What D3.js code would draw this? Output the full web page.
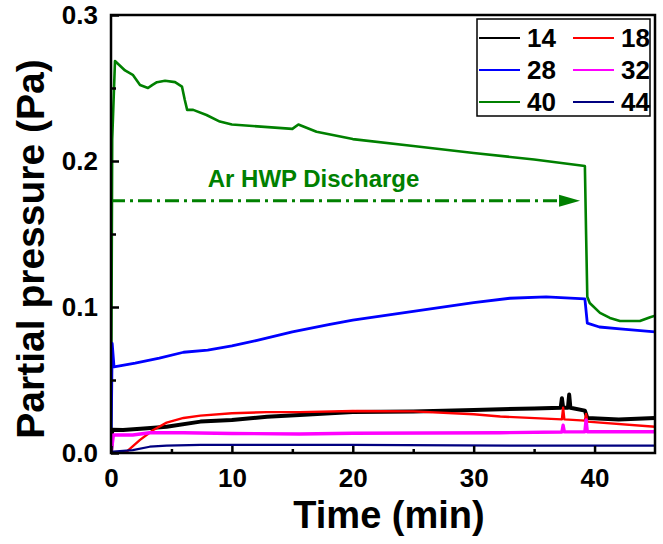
<!DOCTYPE html>
<html>
<head>
<meta charset="utf-8">
<script src="https://cdn.jsdelivr.net/npm/d3@7"></script>
<style>
  body { margin: 0; background: #fff; }
  text { font-family: "Liberation Sans", Arial, sans-serif; font-weight: bold; }
</style>
</head>
<body>
<svg id="chart"></svg>
<script>
// time (min), partial pressure (Pa)
const mass14 = [[0, 0], [0.1, 0.016], [1, 0.0158], [3, 0.017], [4.6, 0.018], [7.4, 0.0215], [10, 0.0226], [12.9, 0.0249], [15.6, 0.026], [20, 0.028], [25, 0.0285], [30, 0.0295], [35, 0.0305], [37.2, 0.031], [37.3, 0.0375], [37.4, 0.031], [37.8, 0.031], [37.9, 0.04], [38, 0.031], [39.2, 0.029], [39.4, 0.024], [42, 0.023], [45, 0.024]];
const mass18 = [[0, 0], [1.3, 0.001], [2.4, 0.009], [3.5, 0.0158], [4.6, 0.0208], [6, 0.024], [7.4, 0.0256], [10, 0.0272], [12.9, 0.028], [15.6, 0.028], [20, 0.0288], [25, 0.0285], [30, 0.0265], [32.2, 0.025], [37.3, 0.023], [37.4, 0.031], [37.5, 0.023], [39.2, 0.0222], [39.3, 0.0267], [39.4, 0.0215], [45, 0.018]];
const mass28 = [[0, 0], [0.1, 0.075], [0.25, 0.059], [2, 0.0616], [4, 0.065], [6, 0.069], [8, 0.0705], [10, 0.0733], [12, 0.077], [15, 0.083], [18, 0.088], [20, 0.091], [25, 0.097], [30, 0.103], [33, 0.106], [36, 0.107], [39.2, 0.1055], [39.4, 0.089], [40.4, 0.0863], [42.1, 0.085], [45, 0.083]];
const mass32 = [[0, 0], [0.2, 0.0123], [1.8, 0.0123], [3.2, 0.0139], [6, 0.0139], [10, 0.0134], [15.6, 0.013], [20, 0.0135], [32.2, 0.0139], [37.3, 0.0144], [37.4, 0.019], [37.5, 0.0145], [39.2, 0.0146], [39.3, 0.0226], [39.4, 0.0146], [45, 0.0146]];
const mass40 = [[0, 0], [0.1, 0.215], [0.33, 0.2685], [1.16, 0.262], [1.8, 0.259], [2.4, 0.252], [3.06, 0.25], [3.4, 0.252], [3.8, 0.254], [4.47, 0.255], [5.3, 0.254], [5.87, 0.251], [6.1, 0.242], [6.3, 0.235], [6.8, 0.235], [7.9, 0.2315], [9, 0.227], [10, 0.225], [15, 0.222], [15.5, 0.225], [17, 0.22], [20, 0.215], [25, 0.2103], [30, 0.2055], [35, 0.201], [39.2, 0.1966], [39.3, 0.15], [39.4, 0.107], [39.6, 0.1027], [40.45, 0.096], [41.27, 0.0925], [42.1, 0.0904], [43.75, 0.0904], [44.6, 0.093], [45, 0.094]];
const mass44 = [[0, 0], [0.2, 0.001], [1.8, 0.002], [3.2, 0.0043], [4.6, 0.005], [7.4, 0.0055], [20, 0.0055], [35, 0.005], [45, 0.005]];

const legendLabels = ["14", "18", "28", "32", "40", "44"];
const legendColors = ["#000000", "#ff0000", "#0000ff", "#ff00ff", "#008000", "#000080"];
const lineWidths = [4, 2.4, 2.8, 3.4, 2.6, 2.2];
const seriesData = [mass14, mass18, mass28, mass32, mass40, mass44];

const xTicks = [0, 10, 20, 30, 40];
const xMinorTicks = [5, 15, 25, 35];
const yTicks = [0.0, 0.1, 0.2, 0.3];
const yMinorTicks = [0.05, 0.15, 0.25];

const annotationText = "Ar HWP Discharge";
const arrowStart = [0, 0.1728];
const arrowEnd = [38.8, 0.1728];

const width = 663, height = 544;
const margin = { left: 111, right: 8, top: 15, bottom: 91 };

const svg = d3.select("#chart").attr("width", width).attr("height", height);

const x = d3.scaleLinear().domain([0, 45]).range([margin.left, width - margin.right]);
const y = d3.scaleLinear().domain([0, 0.3]).range([height - margin.bottom, margin.top]);

svg.append("defs").append("clipPath").attr("id", "plot-clip")
  .append("rect")
  .attr("x", x(0)).attr("y", y(0.3))
  .attr("width", x(45) - x(0)).attr("height", y(0) - y(0.3));

const line = d3.line().x(d => x(d[0])).y(d => y(d[1]));

// draw order: last drawn on top
const drawOrder = [4, 2, 0, 1, 3, 5];
const plot = svg.append("g").attr("clip-path", "url(#plot-clip)");
drawOrder.forEach(i => {
  plot.append("path")
    .datum(seriesData[i])
    .attr("fill", "none")
    .attr("stroke", legendColors[i])
    .attr("stroke-width", lineWidths[i])
    .attr("stroke-linejoin", "round")
    .attr("d", line);
});

// annotation arrow
const green = "#008000";
svg.append("line")
  .attr("x1", x(arrowStart[0])).attr("y1", y(arrowStart[1]))
  .attr("x2", x(arrowEnd[0]) - 18).attr("y2", y(arrowEnd[1]))
  .attr("stroke", green)
  .attr("stroke-width", 3)
  .attr("stroke-dasharray", "14,5,3,5");

svg.append("path")
  .attr("d", `M${x(arrowEnd[0])},${y(arrowEnd[1])} l-21,-6 l0,12 z`)
  .attr("fill", green);

svg.append("text")
  .attr("x", x(8.0)).attr("y", y(0.182))
  .attr("fill", green)
  .attr("font-size", 24)
  .text(annotationText);

// frame
svg.append("rect")
  .attr("x", x(0)).attr("y", y(0.3))
  .attr("width", x(45) - x(0)).attr("height", y(0) - y(0.3))
  .attr("fill", "none")
  .attr("stroke", "#000")
  .attr("stroke-width", 2.5);

// x axis
const xAxis = svg.append("g").attr("transform", `translate(0,${y(0)})`)
  .call(d3.axisBottom(x).tickValues(xTicks).tickSizeInner(-7).tickSizeOuter(0).tickPadding(16).tickFormat(d3.format("d")));
xAxis.select(".domain").remove();
xAxis.selectAll(".tick line").attr("stroke-width", 2.5);
xAxis.selectAll("text").attr("font-size", 26).attr("fill", "#000");
svg.append("g").attr("transform", `translate(0,${y(0)})`)
  .call(d3.axisBottom(x).tickValues(xMinorTicks).tickSizeInner(-4).tickSizeOuter(0).tickFormat(""))
  .call(g => g.select(".domain").remove())
  .selectAll(".tick line").attr("stroke-width", 2.5);

// y axis
const yAxis = svg.append("g").attr("transform", `translate(${x(0)},0)`)
  .call(d3.axisLeft(y).tickValues(yTicks).tickSizeInner(-8).tickSizeOuter(0).tickPadding(13).tickFormat(d3.format(".1f")));
yAxis.select(".domain").remove();
yAxis.selectAll(".tick line").attr("stroke-width", 2.5);
yAxis.selectAll("text").attr("font-size", 26).attr("fill", "#000");
svg.append("g").attr("transform", `translate(${x(0)},0)`)
  .call(d3.axisLeft(y).tickValues(yMinorTicks).tickSizeInner(-5).tickSizeOuter(0).tickFormat(""))
  .call(g => g.select(".domain").remove())
  .selectAll(".tick line").attr("stroke-width", 2.5);

// axis titles
svg.append("text")
  .attr("x", (x(0) + x(45)) / 2 + 6).attr("y", 528)
  .attr("text-anchor", "middle")
  .attr("font-size", 38)
  .text("Time (min)");

svg.append("text")
  .attr("transform", `translate(44,${(y(0) + y(0.3)) / 2 + 15}) rotate(-90)`)
  .attr("text-anchor", "middle")
  .attr("font-size", 39)
  .text("Partial pressure (Pa)");

// legend
const legend = svg.append("g").attr("transform", "translate(477,19)");
legend.append("rect")
  .attr("width", 173).attr("height", 97)
  .attr("fill", "#fff")
  .attr("stroke", "#000")
  .attr("stroke-width", 1.5);

const legendItems = legend.selectAll("g.legend-item")
  .data(legendLabels)
  .join("g")
  .attr("class", "legend-item")
  .attr("transform", (d, i) => `translate(${(i % 2) * 94},${19 + Math.floor(i / 2) * 32})`);

legendItems.append("line")
  .attr("x1", 2).attr("x2", 43)
  .attr("stroke", (d, i) => legendColors[i])
  .attr("stroke-width", 2);

legendItems.append("text")
  .attr("x", 50).attr("y", 9)
  .attr("font-size", 26)
  .text(d => d);
</script>
</body>
</html>
